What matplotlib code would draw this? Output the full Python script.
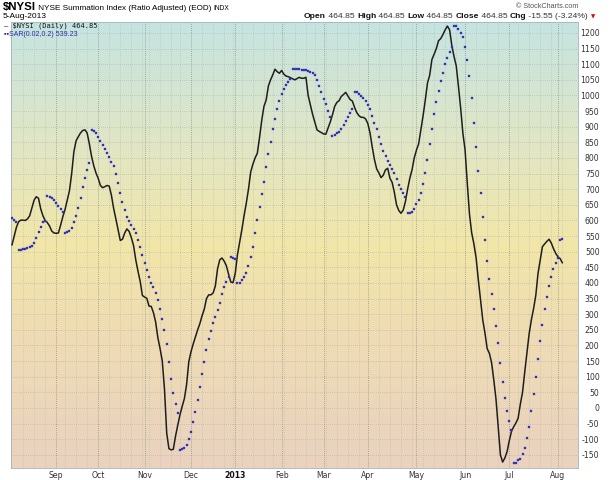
import numpy as np
import pandas as pd
import matplotlib
matplotlib.use("Agg")
import matplotlib.pyplot as plt
from matplotlib.colors import LinearSegmentedColormap

# ---------------- data ----------------
start_date = "2012-08-06"
end_date = "2013-08-05"
holidays = ["2012-09-03", "2012-10-29", "2012-10-30", "2012-11-22", "2012-12-25",
            "2013-01-01", "2013-01-21", "2013-02-18", "2013-03-29", "2013-05-27",
            "2013-07-04"]

nysi = [
    522, 550, 578, 596, 601, 601, 600, 605, 615, 640,
    665, 676, 671, 637, 615, 600, 593, 582, 566, 560,
    559, 560, 585, 612, 635, 665, 695, 750, 820, 855,
    868, 880, 888, 890, 880, 845, 805, 775, 752, 735,
    712, 705, 708, 712, 710, 680, 638, 605, 570, 536,
    540, 560, 573, 565, 545, 520, 474, 438, 405, 360,
    355, 351, 326, 325, 305, 275, 225, 190, 150, 60,
    -80, -130, -134, -132, -90, -55, -22, 5, 30, 75,
    148, 180, 205, 228, 250, 270, 295, 316, 350, 362,
    362, 368, 390, 445, 474, 480, 470, 455, 428, 403,
    401, 430, 490, 530, 570, 615, 655, 700, 755, 780,
    800, 815, 865, 920, 965, 985, 1030, 1050, 1066, 1084,
    1076, 1071, 1080, 1068, 1062, 1060, 1057, 1053, 1050, 1054,
    1058, 1055, 1055, 1058, 1000, 970, 940, 915, 890, 885,
    881, 877, 876, 895, 915, 938, 965, 978, 983, 997,
    1003, 1010, 998, 987, 982, 962, 945, 935, 930, 930,
    925, 910, 880, 835, 795, 765, 752, 737, 745, 762,
    767, 735, 722, 690, 650, 632, 623, 633, 660, 700,
    735, 762, 800, 825, 845, 890, 935, 985, 1040, 1065,
    1115, 1132, 1150, 1175, 1182, 1195, 1210, 1222, 1210, 1160,
    1125, 1095, 1030, 960, 880, 826, 720, 620, 560, 525,
    480, 410, 345, 282, 240, 190, 175, 145, 90, 28,
    -60, -150, -173, -160, -140, -105, -75, -60, -48, -33,
    12, 50, 115, 175, 238, 282, 318, 360, 430, 474,
    516, 525, 533, 540, 528, 510, 495, 484, 478, 464.85,
]

sar = [
    609, 602, 594, 506, 507, 508, 509, 511, 514, 519,
    527, 545, 562, 578, 594, 598, 678, 676, 673, 666,
    657, 646, 636, 626, 559, 562, 567, 576, 595, 613,
    639, 671, 706, 735, 762, 785, 890, 887, 879, 866,
    855, 842, 830, 817, 802, 788, 774, 749, 720, 689,
    660, 634, 612, 599, 586, 572, 559, 538, 514, 489,
    463, 442, 420, 399, 386, 367, 346, 318, 284, 250,
    205, 148, 94, 49, 12, -17, -134, -132, -127, -118,
    -99, -76, -44, -12, 26, 68, 109, 146, 186, 221,
    247, 271, 292, 314, 337, 365, 388, 404, 420, 482,
    479, 477, 401, 401, 410, 418, 431, 454, 484, 516,
    559, 602, 642, 685, 724, 770, 813, 851, 892, 926,
    957, 982, 1004, 1020, 1034, 1044, 1052, 1084, 1084, 1084,
    1084, 1083, 1082, 1081, 1079, 1076, 1071, 1066, 1050, 1031,
    1012, 990, 973, 951, 932, 871, 875, 879, 884, 894,
    905, 917, 932, 945, 957, 1012, 1010, 1005, 998, 991,
    983, 970, 956, 935, 912, 893, 868, 845, 822, 805,
    790, 778, 765, 752, 734, 715, 702, 688, 676, 623,
    623, 627, 636, 652, 666, 687, 717, 751, 794, 845,
    894, 940, 979, 1015, 1047, 1073, 1100, 1121, 1139, 1156,
    1223, 1221, 1214, 1201, 1186, 1156, 1114, 1062, 991, 911,
    834, 759, 689, 610, 538, 470, 412, 365, 316, 263,
    209, 143, 84, 31, -9, -43, -70, -177, -177, -168,
    -162, -148, -128, -97, -60, -10, 44, 100, 157, 214,
    265, 316, 354, 391, 420, 445, 463, 479, 539, 539.23,
]

month_labels = ["Sep", "Oct", "Nov", "Dec", "2013", "Feb", "Mar", "Apr",
                "May", "Jun", "Jul", "Aug"]
y_ticks = list(range(-150, 1201, 50))

title_sym = "$NYSI"
title_txt = "NYSE Summation Index (Ratio Adjusted) (EOD)"
title_exch = "INDX"
date_txt = "5-Aug-2013"
quote_pieces = [("Open", True), (" 464.85 ", False), ("High", True), (" 464.85 ", False),
                ("Low", True), (" 464.85 ", False), ("Close", True), (" 464.85 ", False),
                ("Chg", True), (" -15.55 (-3.24%)", False)]
legend1 = "$NYSI (Daily) 464.85"
legend2 = "SAR(0.02,0.2) 539.23"

# ---------------- layout ----------------
W, H = 610, 480
fig = plt.figure(figsize=(W / 100, H / 100), dpi=100)
fig.patch.set_facecolor("white")

L, R, T, B = 11, 578, 22, 468
ax = fig.add_axes([L / W, 1 - B / H, (R - L) / W, (B - T) / H])

dates = pd.bdate_range(start_date, end_date)
dates = dates[~dates.isin(pd.to_datetime(holidays))]
x = np.arange(len(dates))

ylo, yhi = -192, 1235
xlo, xhi = -0.45, 256.1
ax.set_xlim(xlo, xhi)
ax.set_ylim(ylo, yhi)

# background gradient
cmap = LinearSegmentedColormap.from_list(
    "bg", [(0.0, "#ead2bf"), (0.3, "#efdcb3"), (0.5, "#f2e6a8"),
           (0.72, "#e2e6c4"), (1.0, "#c5e4e1")])
grad = np.linspace(0, 1, 256).reshape(-1, 1)
ax.imshow(grad, extent=[xlo, xhi, ylo, yhi], origin="lower", aspect="auto",
          cmap=cmap, zorder=0, interpolation="bicubic")

# grid lines
for yv in y_ticks:
    ax.axhline(yv, color="#a8b0a8", lw=0.5, ls=(0, (1, 2)), zorder=1)
months = dates.to_period("M")
month_starts = [i for i in range(1, len(dates)) if months[i] != months[i - 1]]
weeks = dates.to_period("W")
week_starts = [i for i in range(1, len(dates)) if weeks[i] != weeks[i - 1]]
for i in week_starts:
    if i not in month_starts:
        ax.axvline(i, color="#b4bab4", lw=0.5, ls=(0, (1, 2)), zorder=1)
for i in month_starts:
    ax.axvline(i, color="#8c948c", lw=0.6, ls=(0, (1, 1.5)), zorder=1)

# series
ax.plot(x, nysi, color="#1e1e1e", lw=1.1, zorder=3, solid_joinstyle="round")
ax.plot(x, sar, ls="none", marker="s", ms=2.0, mfc="#1a1a9a", mec="#5a5ad0",
        mew=0.3, zorder=4)

# axes styling
for s in ax.spines.values():
    s.set_color("#9fb3bd")
    s.set_linewidth(0.6)
ax.yaxis.tick_right()
ax.set_yticks(y_ticks)
ax.set_yticklabels([str(v) for v in y_ticks])
ax.tick_params(axis="y", length=0, pad=15.5, labelsize=5.6, labelcolor="#333333")
for lab in ax.get_yticklabels():
    lab.set_horizontalalignment("right")
ax.set_xticks(month_starts)
ax.set_xticklabels(month_labels)
ax.tick_params(axis="x", length=0, pad=2.0, labelsize=5.6, labelcolor="#333333")
for lab in ax.get_xticklabels():
    if lab.get_text() == "2013":
        lab.set_fontweight("bold")
        lab.set_color("#111111")

# ---------------- texts ----------------
fig.canvas.draw()
rend = fig.canvas.get_renderer()


def fx(px):
    return px / W


def fy(py):
    return 1 - py / H


def run(xp, yp, pieces):
    for txt, kw in pieces:
        t = fig.text(fx(xp), fy(yp), txt, va="baseline", ha="left", **kw)
        xp += t.get_window_extent(renderer=rend).width
    return xp


run(3, 10, [(title_sym, dict(fontsize=8.2, fontweight="bold", family="Liberation Sans")),
            (" " + title_txt + " ", dict(fontsize=5.9, family="Liberation Sans")),
            (title_exch, dict(fontsize=4.8, family="Liberation Sans"))])
fig.text(fx(3), fy(18.5), date_txt, fontsize=6.0, family="Liberation Sans",
         va="baseline", ha="left")
fig.text(fx(578), fy(8.5), "\u00a9 StockCharts.com", fontsize=5.2,
         family="Liberation Sans", color="#555555", va="baseline", ha="right")

qp = [(t, dict(fontsize=6.1, family="Liberation Sans",
               fontweight="bold" if b else "normal", color="#111111" if b else "#333333"))
      for t, b in quote_pieces]
xe = run(304, 18.5, qp)
fig.text(fx(xe + 3), fy(18.3), "\u25bc", fontsize=4.0, color="#cc1111",
         va="baseline", ha="left", family="DejaVu Sans")

# legend inside plot
fig.text(fx(4), fy(27.3), "\u2014 " + legend1, fontsize=5.0, family="DejaVu Sans Mono",
         color="#111111", va="baseline", ha="left")
fig.text(fx(4), fy(35.5), "\u25aa\u25aa" + legend2, fontsize=5.0, family="Liberation Sans",
         color="#2a2aaa", va="baseline", ha="left")

fig.savefig("out.png", dpi=100)
